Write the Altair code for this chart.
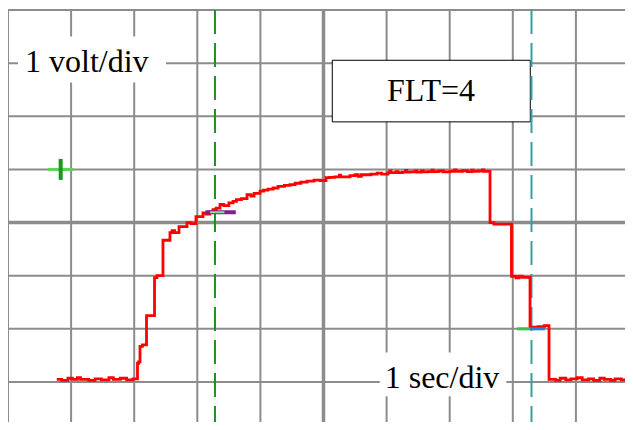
import altair as alt
import pandas as pd

# ---- data (time in seconds / divisions, voltage in volts / divisions) ----
trace_t = [-4.227, -4.15, -4.05, -3.98, -3.90, -3.85, -3.72, -3.62, -3.52, -3.40,
           -3.33, -3.22, -3.12, -3.02,
           -2.948, -2.93, -2.908, -2.87, -2.805, -2.678, -2.64, -2.544, -2.433, -2.40,
           -2.36, -2.290, -2.163, -2.10, -2.021, -1.910, -1.86, -1.80, -1.751, -1.70,
           -1.640, -1.58, -1.50, -1.434, -1.38, -1.30, -1.212, -1.15, -1.10, -1.006,
           -0.95, -0.88, -0.800, -0.72, -0.62, -0.531, -0.45, -0.36, -0.261, -0.15,
           -0.05, 0.040, 0.10, 0.18, 0.25, 0.27, 0.420, 0.50, 0.55, 0.60, 0.753,
           0.85, 0.92, 1.022, 1.05, 1.07, 1.15, 1.18, 1.25, 1.30, 1.32, 1.371,
           1.45, 1.48, 1.55, 1.58, 1.65, 1.72, 1.74, 1.82, 1.90, 2.005, 2.08, 2.10,
           2.20, 2.28, 2.35, 2.37, 2.45, 2.52, 2.54,
           2.639, 2.70, 2.979, 3.05, 3.10, 3.15, 3.273, 3.40, 3.50,
           3.574, 3.68, 3.75, 3.84, 3.92, 4.02, 4.10, 4.20, 4.28, 4.38, 4.45, 4.55,
           4.62, 4.72, 4.80, 4.95]
trace_v = [-2.95, -2.97, -2.93, -2.95, -2.92, -2.95, -2.97, -2.94, -2.96, -2.92,
           -2.95, -2.93, -2.96, -2.94,
           -2.65, -2.62, -2.33, -2.30, -1.75, -1.035, -1.00, -0.333, -0.188, -0.15,
           -0.19, -0.075, 0.0, -0.02, 0.113, 0.18, 0.16, 0.20, 0.245, 0.27,
           0.34, 0.32, 0.37, 0.40, 0.43, 0.45, 0.527, 0.50, 0.55, 0.59,
           0.61, 0.63, 0.65, 0.68, 0.70, 0.715, 0.74, 0.76, 0.78, 0.80,
           0.79, 0.847, 0.85, 0.86, 0.89, 0.86, 0.885, 0.90, 0.87, 0.90, 0.913,
           0.93, 0.91, 0.94, 0.97, 0.94, 0.96, 0.94, 0.95, 0.98, 0.95, 0.954,
           0.97, 0.95, 0.97, 0.955, 0.96, 0.985, 0.96, 0.97, 0.955, 0.963, 0.99, 0.965,
           0.975, 0.96, 0.985, 0.965, 0.97, 0.99, 0.965,
           0.0, -0.03, -1.01, -1.04, -1.01, -1.03, -1.97, -1.96, -1.94,
           -2.95, -2.97, -2.93, -2.96, -2.94, -2.92, -2.96, -2.94, -2.97, -2.93, -2.95, -2.97,
           -2.94, -2.96, -2.93, -2.95]

grid_t = [-5, -4, -3, -2, -1, 0, 1, 2, 3, 4]
grid_v = [-3, -2, -1, 0, 1, 2, 3, 4]

cursor_t = [-1.72, 3.296]
cursor_color = ["#1f8f1f", "#3a9e9e"]

# reference marker (+)
ref_t = [-4.165]
ref_v = [1.0]

# cursor readout bars
bar_t1 = [-1.87, -1.80, 3.066, 3.273]
bar_t2 = [-1.39, -1.57, 3.273, 3.51]
bar_v = [0.194, 0.194, -2.0, -2.0]
bar_color = ["#7f1f8f", "#88e088", "#44bb44", "#2a7fd8"]
bar_w = [4, 2, 3, 3]

# annotation boxes (data units)
box_t1 = [-4.842, 0.139, 0.891]
box_t2 = [-2.496, 3.277, 2.897]
box_v1 = [3.50, 3.054, -2.446]
box_v2 = [2.635, 1.895, -3.269]
box_stroke = [0, 1, 0]
label_text = ["1 volt/div", "FLT=4", "1 sec/div"]
label_t = [-4.73, 1.704, 0.970]
label_v = [2.84, 2.283, -3.111]
label_align = ["left", "center", "left"]

X_DOM = [-5, 4.778]
Y_DOM = [-3.753, 4.0]

xs = alt.Scale(domain=X_DOM, nice=False, zero=False)
ys = alt.Scale(domain=Y_DOM, nice=False, zero=False)

GRID = "#8c8c8c"

trace = pd.DataFrame({"t": trace_t, "v": trace_v})

gx = pd.DataFrame({"t": grid_t, "w": [3.5 if g == 0 else 2 for g in grid_t]})
gy = pd.DataFrame({"v": grid_v, "w": [3.5 if g == 0 else 2 for g in grid_v]})

vgrid = alt.Chart(gx).mark_rule(color=GRID).encode(
    x=alt.X("t:Q", scale=xs, axis=None),
    strokeWidth=alt.StrokeWidth("w:Q", scale=None),
)
hgrid = alt.Chart(gy).mark_rule(color=GRID).encode(
    y=alt.Y("v:Q", scale=ys, axis=None),
    strokeWidth=alt.StrokeWidth("w:Q", scale=None),
)

boxes = pd.DataFrame({"t1": box_t1, "t2": box_t2, "v1": box_v1, "v2": box_v2, "s": box_stroke})
box_layer = alt.Chart(boxes).mark_rect(fill="white", stroke="black").encode(
    x=alt.X("t1:Q", scale=xs, axis=None), x2="t2:Q",
    y=alt.Y("v1:Q", scale=ys, axis=None), y2="v2:Q",
    strokeWidth=alt.StrokeWidth("s:Q", scale=None),
)

labels = pd.DataFrame({"text": label_text, "t": label_t, "v": label_v, "a": label_align})
text_layers = []
for al in ["left", "center"]:
    text_layers.append(
        alt.Chart(labels[labels["a"] == al]).mark_text(
            font="Liberation Serif", fontSize=32, color="black", align=al, baseline="alphabetic"
        ).encode(
            x=alt.X("t:Q", scale=xs, axis=None),
            y=alt.Y("v:Q", scale=ys, axis=None),
            text="text:N",
        )
    )

cursors = pd.DataFrame({"t": cursor_t, "c": cursor_color})
cursor_layer = alt.Chart(cursors).mark_rule(strokeWidth=2, strokeDash=[24, 9]).encode(
    x=alt.X("t:Q", scale=xs, axis=None),
    color=alt.Color("c:N", scale=None),
)

line = alt.Chart(trace).mark_line(
    interpolate="step-after", color="#ff0000", strokeWidth=2.8, clip=True
).encode(
    x=alt.X("t:Q", scale=xs, axis=None),
    y=alt.Y("v:Q", scale=ys, axis=None),
)

bars = pd.DataFrame({"t1": bar_t1, "t2": bar_t2, "v": bar_v, "c": bar_color, "w": bar_w})
bar_layer = alt.Chart(bars).mark_rule().encode(
    x=alt.X("t1:Q", scale=xs, axis=None), x2="t2:Q",
    y=alt.Y("v:Q", scale=ys, axis=None),
    color=alt.Color("c:N", scale=None),
    strokeWidth=alt.StrokeWidth("w:Q", scale=None),
)

ref = pd.DataFrame({"t": ref_t, "v": ref_v})
ref_h = alt.Chart(ref).mark_point(shape="M-1,0H1", size=625, strokeWidth=3, color="#5ad45a", opacity=1).encode(
    x=alt.X("t:Q", scale=xs, axis=None), y=alt.Y("v:Q", scale=ys, axis=None)
)
ref_v_layer = alt.Chart(ref).mark_point(shape="M0,-1V1", size=441, strokeWidth=4, color="#1a961a", opacity=1).encode(
    x=alt.X("t:Q", scale=xs, axis=None), y=alt.Y("v:Q", scale=ys, axis=None)
)

chart = alt.layer(
    vgrid, hgrid, box_layer, *text_layers, cursor_layer, line, bar_layer, ref_h, ref_v_layer
).properties(
    width=617, height=412,
    padding={"left": 0, "top": 2, "right": 0, "bottom": 0},
    autosize=alt.AutoSizeParams(type="none"),
).configure_view(stroke=None).configure(background="white")

chart.save("out.html", embed_options={"renderer": "svg", "actions": False})
